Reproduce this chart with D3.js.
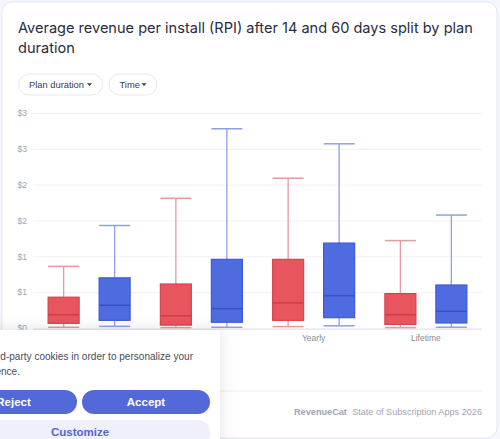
<!DOCTYPE html>
<html>
<head>
<meta charset="utf-8">
<script src="https://cdn.jsdelivr.net/npm/d3@7"></script>
<style>
  html, body { margin: 0; padding: 0; background: #f6f7fd; }
  svg { display: block; font-family: Inter, "Open Sans", sans-serif; }
</style>
</head>
<body>
<svg id="chart" width="500" height="439"></svg>
<script>
// ---- data ----
const title = ["Average revenue per install (RPI) after 14 and 60 days split by plan", "duration"];
const categories = ["Weekly", "Monthly", "Yearly", "Lifetime"];
const series = ["14 days", "60 days"];
// [min, q1, median, q3, max] per category
const rpi14 = [
  [0.01, 0.065, 0.185, 0.43, 0.86],
  [0.005, 0.04, 0.17, 0.614, 1.81],
  [0.02, 0.107, 0.35, 0.958, 2.09],
  [0.005, 0.05, 0.185, 0.48, 1.22]
];
const rpi60 = [
  [0.023, 0.107, 0.317, 0.70, 1.43],
  [0.01, 0.08, 0.27, 0.958, 2.78],
  [0.03, 0.144, 0.45, 1.185, 2.57],
  [0.01, 0.07, 0.233, 0.60, 1.576]
];
const yTicks = [0, 0.5, 1, 1.5, 2, 2.5, 3];
const filters = ["Plan duration", "Time"];

// ---- drawing ----
const svg = d3.select("#chart");
const SMALL = "'Liberation Sans', Arial, sans-serif";
const colors = {
  "14 days": { fill: "#e9555f", stroke: "#d9434e", median: "#c63f4a", whisker: "#e39aa1" },
  "60 days": { fill: "#4e6ce0", stroke: "#3e5ad6", median: "#3450c2", whisker: "#8e9ee7" }
};

// measure helper: font size such that `str` spans `w` px
function fitSize(str, w, family, weight, base) {
  const t = svg.append("text").attr("font-family", family).attr("font-weight", weight || 400)
    .attr("font-size", base).text(str);
  const len = t.node().getComputedTextLength();
  t.remove();
  return base * w / len;
}

const defs = svg.append("defs");
const f = defs.append("filter").attr("id", "shadow").attr("x", "-30%").attr("y", "-30%").attr("width", "160%").attr("height", "160%");
f.append("feDropShadow").attr("dx", 0).attr("dy", 0).attr("stdDeviation", 8).attr("flood-color", "#1b1f3b").attr("flood-opacity", 0.12);

// card
svg.append("rect").attr("x", 2).attr("y", 2).attr("width", 495).attr("height", 436)
  .attr("rx", 10).attr("fill", "#ffffff").attr("stroke", "#e3e6f6");

// title
const TITLE_FONT = "Inter, sans-serif";
const titleSize = fitSize(title[0], 455, TITLE_FONT, 400, 16);
svg.append("g").selectAll("text").data(title).join("text")
  .attr("x", 18).attr("y", (d, i) => 33 + i * 19.5)
  .attr("font-family", TITLE_FONT)
  .attr("font-size", titleSize).attr("fill", "#2a2c44")
  .text(d => d);

// filter pills
const pillX = [18.5, 109];
const pillW = [84, 48];
const pillSize = fitSize("Plan duration", 55, SMALL, 400, 10);
const pills = svg.append("g").selectAll("g").data(filters).join("g")
  .attr("transform", (d, i) => `translate(${pillX[i]},74)`);
pills.append("rect").attr("width", (d, i) => pillW[i]).attr("height", 21).attr("rx", 10.5)
  .attr("fill", "#fff").attr("stroke", "#e7e8ee");
pills.append("text").attr("x", 10.5).attr("y", 14).attr("font-size", pillSize).attr("font-family", SMALL)
  .attr("fill", "#3a3c52").text(d => d);
pills.append("path").attr("transform", (d, i) => `translate(${pillW[i] - 13},10.5)`)
  .attr("d", "M-2.6,-1.2L2.6,-1.2L0,1.6Z").attr("fill", "#3a3c52");

// scales
const y = d3.scaleLinear().domain([0, 3]).range([328, 113]);
const x = d3.scaleBand().domain(categories).range([33, 482]);
const xs = d3.scalePoint().domain(series).range([x.bandwidth() / 2 - 25.5, x.bandwidth() / 2 + 25.5]);
const boxW = 31;

// grid + y labels
const yAxis = d3.axisLeft(y).tickValues(yTicks).tickFormat(d3.format("$.0f")).tickSize(-(482 - 33)).tickPadding(6);
const gy = svg.append("g").attr("transform", "translate(33,0)").call(yAxis);
gy.select(".domain").remove();
gy.selectAll(".tick line").attr("stroke", "#f1f1f5");
gy.selectAll(".tick text").attr("fill", "#a2a3ad").attr("font-size", 8.5).attr("font-family", SMALL);
// baseline
svg.append("line").attr("x1", 33).attr("x2", 482).attr("y1", 329.5).attr("y2", 329.5).attr("stroke", "#e9e9ee");

// x labels
const xAxis = d3.axisBottom(x).tickSize(0).tickPadding(5);
const gx = svg.append("g").attr("transform", "translate(0,330)").call(xAxis);
gx.select(".domain").remove();
gx.selectAll(".tick text").attr("fill", "#8a8b97").attr("font-size", 8.5).attr("font-family", SMALL);

// boxes
const seriesData = [rpi14, rpi60];
series.forEach((s, si) => {
  const c = colors[s];
  const g = svg.append("g");
  const items = categories.map((cat, i) => ({ cat, v: seriesData[si][i] }));
  const bx = d => x(d.cat) + xs(s);
  const box = g.selectAll("g").data(items).join("g");
  box.append("line").attr("x1", bx).attr("x2", bx).attr("y1", d => y(d.v[4])).attr("y2", d => y(d.v[3]))
    .attr("stroke", c.whisker).attr("stroke-width", 1.3);
  box.append("line").attr("x1", bx).attr("x2", bx).attr("y1", d => y(d.v[1])).attr("y2", d => y(d.v[0]))
    .attr("stroke", c.whisker).attr("stroke-width", 1.3);
  [0, 4].forEach(k => {
    box.append("line").attr("x1", d => bx(d) - boxW / 2).attr("x2", d => bx(d) + boxW / 2)
      .attr("y1", d => y(d.v[k])).attr("y2", d => y(d.v[k]))
      .attr("stroke", c.whisker).attr("stroke-width", 1.5);
  });
  box.append("rect").attr("x", d => bx(d) - boxW / 2).attr("width", boxW)
    .attr("y", d => y(d.v[3])).attr("height", d => y(d.v[1]) - y(d.v[3]))
    .attr("fill", c.fill).attr("stroke", c.stroke).attr("stroke-width", 1.2);
  box.append("line").attr("x1", d => bx(d) - boxW / 2).attr("x2", d => bx(d) + boxW / 2)
    .attr("y1", d => y(d.v[2])).attr("y2", d => y(d.v[2]))
    .attr("stroke", c.median).attr("stroke-width", 1.4);
});

// footer
svg.append("line").attr("x1", 18).attr("x2", 482).attr("y1", 391).attr("y2", 391).attr("stroke", "#eeeef3");
const brandSize = fitSize("RevenueCat", 53, SMALL, 700, 11);
const footSize = fitSize("State of Subscription Apps 2026", 130, SMALL, 400, 10);
svg.append("text").attr("x", 294).attr("y", 415).attr("font-family", SMALL).attr("font-weight", 700)
  .attr("font-size", brandSize).attr("fill", "#a3a5b3").text("RevenueCat");
svg.append("text").attr("x", 482).attr("y", 415).attr("text-anchor", "end").attr("font-family", SMALL)
  .attr("font-size", footSize).attr("fill", "#a3a5b3").text("State of Subscription Apps 2026");

// cookie banner
const ban = svg.append("g");
ban.append("rect").attr("x", -60).attr("y", 330).attr("width", 280).attr("height", 130)
  .attr("fill", "#fff").attr("filter", "url(#shadow)");
const cookieSize = fitSize("d-party cookies in order to personalize your", 193, SMALL, 400, 11);
const cookieLines = ["We use third-party cookies in order to personalize your", "experience."];
const cookieEnds = [193, 20];
ban.selectAll("text.msg").data(cookieLines).join("text").attr("class", "msg")
  .attr("x", (d, i) => cookieEnds[i]).attr("y", (d, i) => 360 + i * 15)
  .attr("text-anchor", "end").attr("font-family", SMALL).attr("font-size", cookieSize)
  .attr("fill", "#4b4c58").text(d => d);
const btns = [
  { label: "Reject", x: -50, w: 127, y: 390, h: 24, fill: "#5469d9", color: "#fff" },
  { label: "Accept", x: 82, w: 128, y: 390, h: 24, fill: "#5469d9", color: "#fff" },
  { label: "Customize", x: -50, w: 260, y: 420, h: 26, fill: "#eff0fb", color: "#5166d6" }
];
const bg = ban.selectAll("g.btn").data(btns).join("g").attr("class", "btn");
bg.append("rect").attr("x", d => d.x).attr("y", d => d.y).attr("width", d => d.w).attr("height", d => d.h)
  .attr("rx", 12).attr("fill", d => d.fill);
bg.append("text").attr("x", d => d.x + d.w / 2).attr("y", d => d.y + 15.5).attr("text-anchor", "middle")
  .attr("font-family", SMALL).attr("font-size", 11.5).attr("font-weight", 700)
  .attr("fill", d => d.color).text(d => d.label);
</script>
</body>
</html>
